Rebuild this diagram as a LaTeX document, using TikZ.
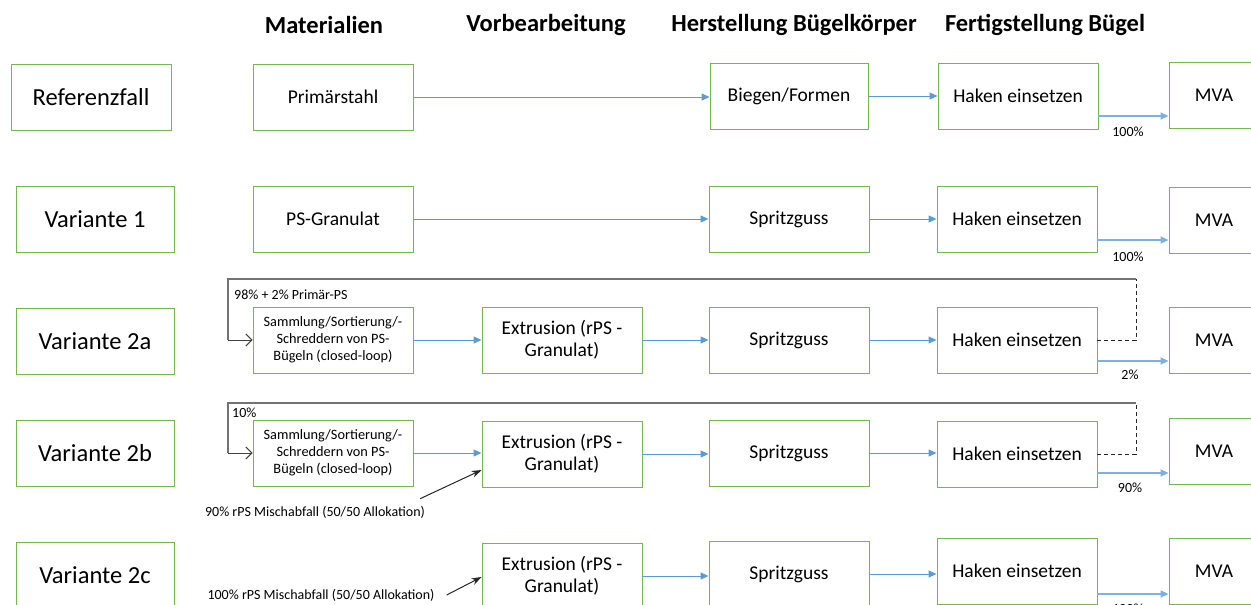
\documentclass[tikz,border=0pt]{standalone}
\usepackage{fontspec}
\setmainfont{Carlito}
\usepackage{tikz}
\usetikzlibrary{arrows.meta}

\definecolor{boxgreen}{RGB}{120,180,80}
\definecolor{flowblue}{RGB}{91,155,213}
\definecolor{flowlight}{RGB}{125,177,224}
\definecolor{loopgray}{RGB}{115,115,115}

\tikzset{
  box/.style={draw=boxgreen, line width=0.9pt, minimum width=160pt, minimum height=66pt,
    align=center, inner sep=2pt, font=\fontsize{19.5}{22}\selectfont},
  casebox/.style={box, minimum width=158pt, font=\fontsize{24.5}{28}\selectfont},
  smallbox/.style={box, font=\fontsize{14.3}{17}\selectfont},
  mvabox/.style={box, minimum width=90pt},
  heading/.style={font=\fontsize{24.5}{28}\selectfont\bfseries},
  lbl/.style={font=\fontsize{14}{16}\selectfont, inner sep=0pt},
  flow/.style={draw=flowblue, line width=1pt, -{Triangle[length=8pt,width=7pt]}},
  tomva/.style={flow, draw=flowlight, line width=1.8pt},
  loopline/.style={draw=loopgray, line width=2pt},
  back/.style={draw=black!85, line width=0.9pt, dash pattern=on 4pt off 3pt},
  entry/.style={draw=black!75, line width=1pt, -{Straight Barb[length=6pt,width=12pt]}},
  feed/.style={draw=black!85, line width=1pt, -{Stealth[length=10pt,width=7pt]}}
}

\begin{document}
\begin{tikzpicture}[x=1pt,y=-1pt]
  \useasboundingbox (0,0) rectangle (1251,605);

  % Spaltenkoepfe
  \node[heading] (hmat) at (324,25) {Materialien};
  \node[heading] (hvor) at (546,25) {Vorbearbeitung};
  \node[heading] (hher) at (794,25) {Herstellung Bügelkörper};
  \node[heading] (hfer) at (1045,25) {Fertigstellung Bügel};

  % Referenzfall
  \node[casebox, minimum width=160pt] (ref) at (91,97) {Referenzfall};
  \node[box] (prim) at (333,97) {Primärstahl};
  \node[box, minimum width=158pt] (bieg) at (789,96) {Biegen/Formen};
  \node[box] (hk0) at (1018,96) {Haken einsetzen};
  \node[mvabox] (mva0) at (1214,95) {MVA};
  \draw[flow] (prim.east) -- (prim.east -| bieg.west);
  \draw[flow] (bieg.east) -- (bieg.east -| hk0.west);
  \draw[tomva] ([yshift=-20pt]hk0.east) -- ([yshift=-20pt]hk0.east -| mva0.west);
  \node[lbl] (p0) at (1128,132) {100\%};

  % Variante 1
  \node[casebox] (v1) at (95,219) {Variante 1};
  \node[box] (psg) at (333,219) {PS-Granulat};
  \node[box] (sp1) at (789,219) {Spritzguss};
  \node[box] (hk1) at (1017,219) {Haken einsetzen};
  \node[mvabox] (mva1) at (1214,220) {MVA};
  \draw[flow] (psg.east) -- (psg.east -| sp1.west);
  \draw[flow] (sp1.east) -- (sp1.east -| hk1.west);
  \draw[tomva] ([yshift=-21pt]hk1.east) -- ([yshift=-21pt]hk1.east -| mva1.west);
  \node[lbl] (p1) at (1128,257) {100\%};

  % Variante 2a
  \node[casebox] (v2a) at (95,341) {Variante 2a};
  \node[smallbox] (sam2a) at (333,340) {Sammlung/Sortierung/-\\Schreddern von PS-\\Bügeln (closed-loop)};
  \node[box] (ex2a) at (562,340) {Extrusion (rPS -\\Granulat)};
  \node[box] (sp2a) at (789,340) {Spritzguss};
  \node[box] (hk2a) at (1017,340) {Haken einsetzen};
  \node[mvabox] (mva2a) at (1214,340) {MVA};
  \draw[flow] (sam2a.east) -- (sam2a.east -| ex2a.west);
  \draw[flow] (ex2a.east) -- (ex2a.east -| sp2a.west);
  \draw[flow] (sp2a.east) -- (sp2a.east -| hk2a.west);
  \draw[tomva] ([yshift=-21pt]hk2a.east) -- ([yshift=-21pt]hk2a.east -| mva2a.west);
  \node[lbl] (p2a) at (1130,375) {2\%};
  \coordinate (r2a) at (1136,279);
  \coordinate (l2a) at (228,279);
  \draw[back] (hk2a.east) -| (r2a);
  \draw[loopline] (r2a) -- (l2a) -- (l2a |- sam2a.west);
  \draw[entry] (l2a |- sam2a.west) -- (sam2a.west);
  \node[lbl, anchor=west] (q2a) at (234,295) {98\% + 2\% Primär-PS};

  % Variante 2b
  \node[casebox] (v2b) at (95,453) {Variante 2b};
  \node[smallbox] (sam2b) at (333,453) {Sammlung/Sortierung/-\\Schreddern von PS-\\Bügeln (closed-loop)};
  \node[box] (ex2b) at (562,454) {Extrusion (rPS -\\Granulat)};
  \node[box] (sp2b) at (789,453) {Spritzguss};
  \node[box] (hk2b) at (1017,454) {Haken einsetzen};
  \node[mvabox] (mva2b) at (1214,451) {MVA};
  \draw[flow] (sam2b.east) -- (sam2b.east -| ex2b.west);
  \draw[flow] (ex2b.east) -- (ex2b.east -| sp2b.west);
  \draw[flow] (sp2b.east) -- (sp2b.east -| hk2b.west);
  \draw[tomva] ([yshift=-19pt]hk2b.east) -- ([yshift=-19pt]hk2b.east -| mva2b.west);
  \node[lbl] (p2b) at (1130,488) {90\%};
  \coordinate (r2b) at (1136,403);
  \coordinate (l2b) at (228,403);
  \draw[back] (hk2b.east) -| (r2b);
  \draw[loopline] (r2b) -- (l2b) -- (l2b |- sam2b.west);
  \draw[entry] (l2b |- sam2b.west) -- (sam2b.west);
  \node[lbl, anchor=west] (q2b) at (232,413) {10\%};
  \node[lbl] (mix90) at (315,512) {90\% rPS Mischabfall (50/50 Allokation)};
  \draw[feed] ([xshift=-5pt,yshift=7pt]mix90.north east) -- ([yshift=-16pt]ex2b.west);

  % Variante 2c
  \node[casebox] (v2c) at (95,575) {Variante 2c};
  \node[box] (ex2c) at (562,576) {Extrusion (rPS -\\Granulat)};
  \node[box] (sp2c) at (789,574) {Spritzguss};
  \node[box] (hk2c) at (1017,571) {Haken einsetzen};
  \node[mvabox] (mva2c) at (1214,571) {MVA};
  \draw[flow] (ex2c.east) -- (ex2c.east -| sp2c.west);
  \draw[flow] (sp2c.east) -- (sp2c.east -| hk2c.west);
  \draw[tomva] ([yshift=-23pt]hk2c.east) -- ([yshift=-23pt]hk2c.east -| mva2c.west);
  \node[lbl] (p2c) at (1128,609) {100\%};
  \node[lbl] (mix100) at (321,595) {100\% rPS Mischabfall (50/50 Allokation)};
  \draw[feed] ([xshift=12pt]mix100.east) -- ([yshift=-1pt]ex2c.west);
\end{tikzpicture}
\end{document}
